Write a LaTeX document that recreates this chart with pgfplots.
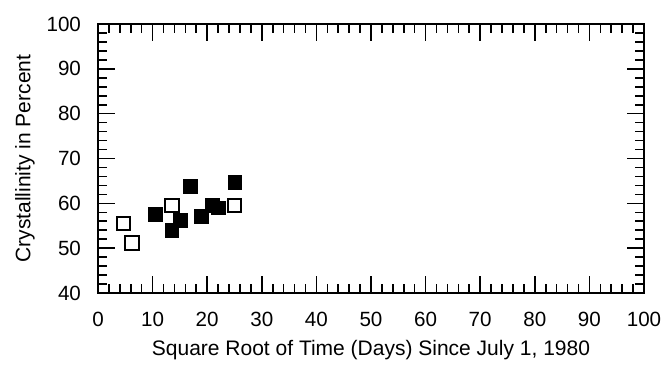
\documentclass[border=0pt]{standalone}
\usepackage{pgfplots}
\pgfplotsset{compat=1.18}
\usepackage{fontspec}
\setmainfont{Liberation Sans}
\begin{document}
\begin{tikzpicture}
\useasboundingbox (-49pt,-36pt) rectangle (281.5pt,146.5pt);
\begin{axis}[
  at={(0pt,0pt)}, anchor=south west,
  scale only axis,
  width=273pt, height=134.5pt,
  xmin=0, xmax=100, ymin=40, ymax=100,
  xtick={0,10,...,100}, ytick={40,50,...,100},
  minor x tick num=4, minor y tick num=4,
  tick align=inside,
  major tick length=8.5pt, minor tick length=4.5pt,
  axis line style={line width=1.1pt},
  every tick/.style={black, line width=0.8pt},
  tick label style={font=\fontsize{10.3}{12}\selectfont},
  label style={font=\fontsize{10.5}{12}\selectfont},
  /pgf/number format/assume math mode=true,
  xticklabel style={yshift=-6pt},
  yticklabel style={xshift=-5pt},
  xlabel={Square Root of Time (Days) Since July 1, 1980},
  ylabel={Crystallinity in Percent},
  xlabel style={yshift=0pt},
  ylabel style={yshift=-1pt},
]
\addplot[only marks, mark=square, mark size=3.4pt, mark options={line width=1pt, black}]
coordinates {(4.7,55.5) (6.2,51.1) (13.5,59.5) (25.0,59.5)};
\addplot[only marks, mark=square*, mark size=3.4pt, mark options={black, fill=black}]
coordinates {(10.5,57.6) (13.5,54.0) (15.1,56.2) (16.9,63.8) (18.9,57.1) (20.9,59.5) (22.1,59.0) (25.1,64.7)};
\end{axis}
\end{tikzpicture}
\end{document}
